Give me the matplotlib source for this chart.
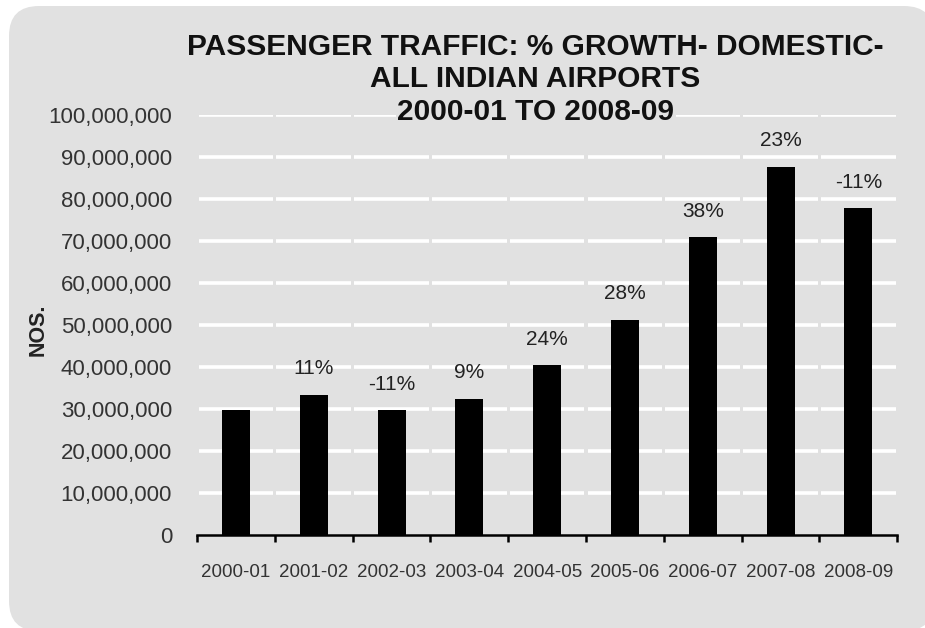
"""
Domestic passenger traffic, all Indian airports, 2000-01 to 2008-09
"""

import matplotlib
matplotlib.use("Agg")
import matplotlib.pyplot as plt
from matplotlib.patches import FancyBboxPatch
from matplotlib.ticker import FuncFormatter, FixedLocator

years = ["2000-01", "2001-02", "2002-03", "2003-04", "2004-05",
         "2005-06", "2006-07", "2007-08", "2008-09"]
passengers = [29700000, 33400000, 29700000, 32400000, 40400000,
              51300000, 70900000, 87600000, 77800000]
growth_labels = ["", "11%", "-11%", "9%", "24%", "28%", "38%", "23%", "-11%"]
title_lines = ["PASSENGER TRAFFIC: % GROWTH- DOMESTIC-",
               "ALL INDIAN AIRPORTS",
               "2000-01 TO 2008-09"]

bg = "#e1e1e1"
plt.rcParams['font.family'] = ['Liberation Sans', 'DejaVu Sans']

fig = plt.figure(figsize=(9.25, 6.28), dpi=100)
fig.patch.set_facecolor("white")
# rounded grey card behind everything (runs off the right and bottom edges)
card = FancyBboxPatch((0.09, -0.03), 9.25, 6.25, boxstyle="round,pad=0,rounding_size=0.3",
                      transform=fig.dpi_scale_trans, facecolor=bg, edgecolor="none", zorder=-10)
fig.patches.append(card)

ax = fig.add_axes([0.213, 0.148, 0.757, 0.669])
ax.set_facecolor("none")

x = list(range(len(years)))

# white gridlines, broken at each category boundary
for v in range(10000000, 100000001, 10000000):
    for i in x:
        ax.hlines(v, i - 0.48, i + 0.48, colors="white", linewidth=2.6, zorder=1)

ax.bar(x, passengers, width=0.36, color="black", zorder=2)

for i, lab in enumerate(growth_labels):
    if lab:
        ax.annotate(lab, (i, passengers[i]), xytext=(0, 12), textcoords="offset points",
                    ha="center", va="bottom", fontsize=15, color="#222222")

ax.set_xlim(-0.5, len(years) - 0.5)
ax.set_ylim(0, 100000000)
ax.yaxis.set_major_locator(FixedLocator(range(0, 100000001, 10000000)))
ax.yaxis.set_major_formatter(FuncFormatter(lambda v, p: "{:,.0f}".format(v)))
ax.tick_params(axis="y", length=0, pad=18, labelsize=16, labelcolor="#333333")

ax.set_xticks(x)
ax.set_xticklabels(years)
ax.xaxis.set_minor_locator(FixedLocator([i - 0.5 for i in range(len(years) + 1)]))
ax.tick_params(axis="x", which="major", length=0, pad=21, labelsize=13.5, labelcolor="#333333")
ax.tick_params(axis="x", which="minor", length=5, width=1.8, color="black", direction="out")

for s in ["top", "right", "left"]:
    ax.spines[s].set_visible(False)
ax.spines["bottom"].set_linewidth(1.8)
ax.spines["bottom"].set_zorder(3)

ax.set_ylabel("NOS.", fontsize=15.5, fontweight="bold", color="#222222")
ax.yaxis.set_label_coords(-0.212, 0.488)

# each title line gets its own grey box so the top gridline shows beside it
baselines = [0.912, 0.861, 0.809]
for line, yb in zip(title_lines, baselines):
    fig.text(0.579, yb, line, ha="center", va="baseline", fontsize=21.5,
             fontweight="bold", color="#111111", zorder=5,
             bbox=dict(facecolor=bg, edgecolor="none", pad=1))

plt.savefig("out.png", dpi=100, facecolor="white")
